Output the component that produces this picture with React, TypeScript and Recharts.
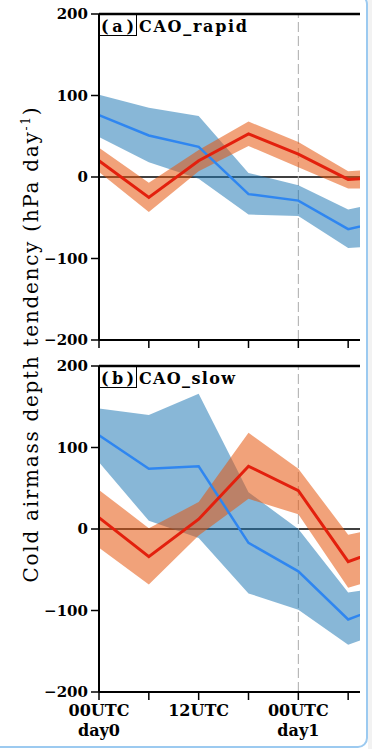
import React from "react";
import { Area, CartesianGrid, ComposedChart, Line, ReferenceLine, XAxis, YAxis } from "recharts";

const hours = [0, 6, 12, 18, 24, 30, 36];
const xTickTop = ["00UTC", "", "12UTC", "", "00UTC", "", ""];
const xTickBottom = ["day0", "", "", "", "day1", "", ""];
const yTicks = [-200, -100, 0, 100, 200];

// (a) CAO_rapid
const rapidBlueMean = [76, 51, 37, -21, -29, -64, -50];
const rapidBlueLow = [49, 18, -2, -46, -48, -87, -83];
const rapidBlueHigh = [101, 85, 75, 5, -10, -40, -27];
const rapidRedMean = [20, -25, 20, 53, 28, -3, 1];
const rapidRedLow = [6, -43, 7, 38, 12, -14, -14];
const rapidRedHigh = [36, -7, 33, 68, 43, 7, 11];

// (b) CAO_slow
const slowBlueMean = [115, 74, 77, -17, -52, -111, -88];
const slowBlueLow = [82, 10, -11, -79, -99, -142, -120];
const slowBlueHigh = [148, 140, 166, 45, 0, -78, -69];
const slowRedMean = [14, -34, 12, 77, 47, -40, -18];
const slowRedLow = [-23, -68, -8, 37, 18, -72, -54];
const slowRedHigh = [48, 1, 33, 118, 74, -7, 6];

const makeRows = (
  bm: number[],
  bl: number[],
  bh: number[],
  rm: number[],
  rl: number[],
  rh: number[]
) =>
  hours.map((h, i) => ({
    h,
    blue: bm[i],
    blueBand: [bl[i], bh[i]],
    red: rm[i],
    redBand: [rl[i], rh[i]],
  }));

const rapidRows = makeRows(rapidBlueMean, rapidBlueLow, rapidBlueHigh, rapidRedMean, rapidRedLow, rapidRedHigh);
const slowRows = makeRows(slowBlueMean, slowBlueLow, slowBlueHigh, slowRedMean, slowRedLow, slowRedHigh);

const SERIF = "'DejaVu Serif', serif";

function HourTick(props: any) {
  const { x, y, payload, show } = props;
  const i = hours.indexOf(payload.value);
  if (!show || i < 0 || !xTickTop[i]) return <g />;
  return (
    <text x={x} y={y} textAnchor="middle" fill="#000" fontFamily={SERIF} fontWeight="bold" fontSize={16}>
      <tspan x={x} dy={14}>{xTickTop[i]}</tspan>
      {xTickBottom[i] ? <tspan x={x} dy={20}>{xTickBottom[i]}</tspan> : null}
    </text>
  );
}

function Panel({ rows, showLabels, height, xAxisHeight }: any) {
  return (
    <ComposedChart
      width={420}
      height={height}
      data={rows}
      margin={{ top: 14, right: 22, bottom: 0, left: 0 }}
    >
      {/* zero line and day1 marker sit under the bands */}
      <CartesianGrid vertical={false} horizontalValues={[0]} stroke="#000" strokeWidth={1.5} />
      <CartesianGrid
        horizontal={false}
        verticalValues={[24]}
        stroke="#aaa"
        strokeWidth={1}
        strokeDasharray="10 4"
        strokeDashoffset={-8}
      />
      <XAxis
        dataKey="h"
        type="number"
        domain={[0, 36]}
        ticks={hours}
        interval={0}
        height={xAxisHeight}
        axisLine={{ stroke: "#000", strokeWidth: 2 }}
        tickLine={{ stroke: "#000", strokeWidth: 1.5 }}
        tickSize={8}
        tick={<HourTick show={showLabels} />}
      />
      <YAxis
        type="number"
        domain={[-200, 200]}
        ticks={yTicks}
        interval={0}
        width={99}
        axisLine={{ stroke: "#000", strokeWidth: 2 }}
        tickLine={{ stroke: "#000", strokeWidth: 1.5 }}
        tickSize={8}
        tickMargin={3}
        tickFormatter={(v: number) => (v < 0 ? `\u2212${-v}` : `${v}`)}
        tick={{ fill: "#000", fontSize: 15, fontWeight: "bold", fontFamily: SERIF }}
      />
      <ReferenceLine y={200} stroke="#000" strokeWidth={2.5} />
      <Area
        dataKey="blueBand"
        type="linear"
        fill="#1f77b4"
        fillOpacity={0.53}
        stroke="none"
        isAnimationActive={false}
      />
      <Line
        dataKey="blue"
        type="linear"
        stroke="#2f86f0"
        strokeWidth={2.5}
        dot={false}
        isAnimationActive={false}
      />
      <Area
        dataKey="redBand"
        type="linear"
        fill="#e6550d"
        fillOpacity={0.55}
        stroke="none"
        isAnimationActive={false}
      />
      <Line
        dataKey="red"
        type="linear"
        stroke="#e3200d"
        strokeWidth={3}
        dot={false}
        isAnimationActive={false}
      />
    </ComposedChart>
  );
}

export default function App() {
  return (
    <div style={{ position: "fixed", left: 0, top: 0, width: 372, height: 749, overflow: "hidden", background: "#fff" }}>
      <div style={{ position: "absolute", left: 368, top: 0, width: 4, height: 749, background: "#f2f2f2" }} />
      <div
        style={{
          position: "absolute",
          left: -20,
          top: -6,
          width: 384,
          height: 750,
          border: "2px solid #9ccaf0",
          borderRadius: 10,
        }}
      />
      <div style={{ position: "absolute", left: 0, top: 0, width: 360, height: 749, overflow: "hidden" }}>
        <div style={{ position: "absolute", left: 0, top: 0 }}>
          <Panel rows={rapidRows} showLabels={false} height={352} xAxisHeight={12} />
        </div>
        <div style={{ position: "absolute", left: 0, top: 352 }}>
          <Panel rows={slowRows} showLabels={true} height={390} xAxisHeight={50} />
        </div>
      </div>
      <svg width={372} height={749} style={{ position: "absolute", left: 0, top: 0, pointerEvents: "none" }}>
        <text
          x={38}
          y={345}
          transform="rotate(-90 38 345)"
          textAnchor="middle"
          fontFamily={SERIF}
          fontSize={20}
          fill="#000"
          textLength={475}
          lengthAdjust="spacing"
        >
          Cold airmass depth tendency (hPa day
          <tspan fontSize={12} dy={-8}>-1</tspan>
          <tspan dy={8}>)</tspan>
        </text>
        <rect x={99.5} y={14.5} width={37} height={21} fill="none" stroke="#000" strokeWidth={1} />
        <text x={117.5} y={31.5} textAnchor="middle" fontFamily={SERIF} fontSize={16} fontWeight="bold" fill="#000" textLength={33}>
          (a)
        </text>
        <text x={139} y={31.5} fontFamily={SERIF} fontSize={16} fontWeight="bold" fill="#000" textLength={108}>
          CAO_rapid
        </text>
        <rect x={99.5} y={366.5} width={37} height={21} fill="none" stroke="#000" strokeWidth={1} />
        <text x={117.5} y={383.5} textAnchor="middle" fontFamily={SERIF} fontSize={16} fontWeight="bold" fill="#000" textLength={33}>
          (b)
        </text>
        <text x={139} y={383.5} fontFamily={SERIF} fontSize={16} fontWeight="bold" fill="#000" textLength={96}>
          CAO_slow
        </text>
      </svg>
    </div>
  );
}
